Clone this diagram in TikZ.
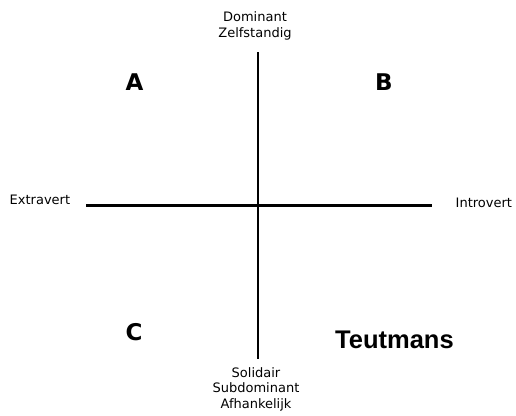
\documentclass[tikz,border=0pt]{standalone}
\usepackage{fontspec}
\setmainfont{DejaVu Sans}
\newfontfamily\teutfont{Liberation Sans}
\usetikzlibrary{positioning}

\begin{document}
\begin{tikzpicture}[x=1pt,y=-1pt,
  pole/.style={inner sep=0pt,align=center,font=\fontsize{13}{15.8}\selectfont},
  quadrant/.style={inner sep=0pt,anchor=base,font=\fontsize{23}{26}\selectfont\bfseries},
  axis/.style={line width=2.9pt}]
\useasboundingbox (0,0) rectangle (516,415);
% ---- assen ----
\coordinate (top) at (258,52);
\coordinate (bottom) at (258,359);
\coordinate (left) at (86,205.5);
\coordinate (right) at (432,205.5);
\draw[axis] (top) -- (bottom);
\draw[axis] (left) -- (right);
% ---- polen ----
\node[pole,anchor=north] (dominant) at (255,11.5) {Dominant\\Zelfstandig};
\node[pole,anchor=base west] (extravert) at (9.5,204) {Extravert};
\node[pole,anchor=base west] (introvert) at (455.5,207) {Introvert};
\node[pole,anchor=north] (solidair) at (256,367) {Solidair\\Subdominant\\Afhankelijk};
% ---- kwadranten ----
\node[quadrant] (qa) at (134.5,90) {A};
\node[quadrant] (qb) at (384,90) {B};
\node[quadrant] (qc) at (134,340) {C};
\node[inner sep=0pt,anchor=base west,font=\teutfont\fontsize{25.5}{28}\selectfont\bfseries] (teutmans) at (335,348) {Teutmans};
\end{tikzpicture}
\end{document}
